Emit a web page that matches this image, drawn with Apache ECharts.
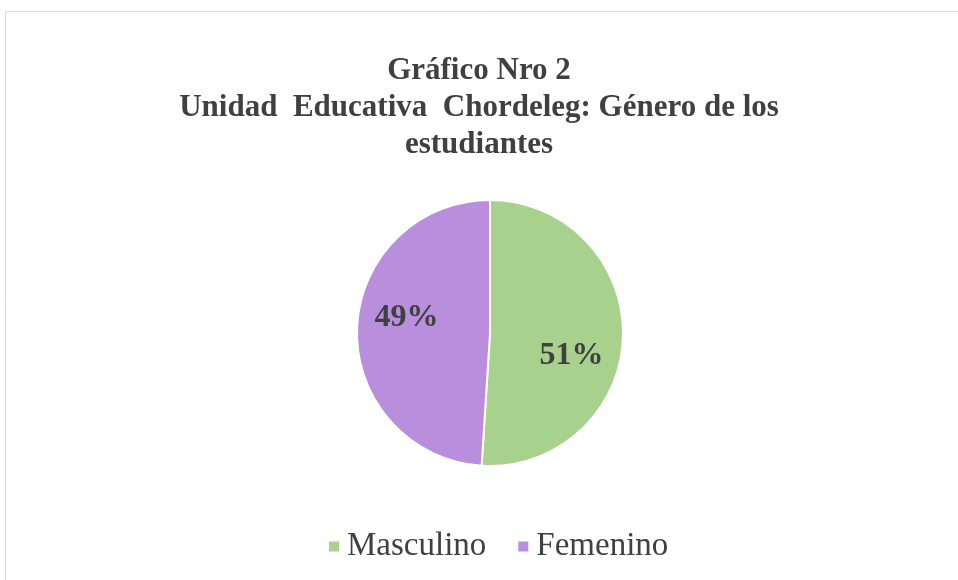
<!DOCTYPE html>
<html>
<head>
<meta charset="utf-8">
<script src="https://cdn.jsdelivr.net/npm/echarts@6/dist/echarts.min.js"></script>
<style>
  html, body { margin: 0; padding: 0; background: #fff; }
  #chart { width: 958px; height: 580px; }
</style>
</head>
<body>
<div id="chart"></div>
<script>
const categories = ["Masculino", "Femenino"];
const shares = [51, 49];
const colors = ["#a9d18e", "#b98edc"];
// label nudges so they sit where the original put them
const labelOffsets = [[12, 21], [-14, -13]];

const serif = "'Liberation Serif', 'DejaVu Serif', serif";
const textColor = "#404040";

const myChart = echarts.init(document.getElementById("chart"));

const option = {
  backgroundColor: "#fff",
  animation: false,
  title: {
    text: "Gráfico Nro 2\nUnidad  Educativa  Chordeleg: Género de los\nestudiantes",
    left: "center",
    top: 47,
    textStyle: {
      fontFamily: serif,
      fontWeight: "bold",
      fontSize: 31,
      lineHeight: 37,
      color: textColor,
    },
  },
  legend: {
    bottom: 12,
    left: 322,
    icon: "rect",
    itemWidth: 12,
    itemHeight: 12,
    itemGap: 30,
    textStyle: { fontFamily: serif, fontSize: 33, color: textColor, padding: [0, 0, 0, 2] },
    data: categories,
  },
  graphic: [
    {
      type: "rect",
      shape: { x: 5.5, y: 11.5, width: 1000, height: 1000 },
      style: { fill: "none", stroke: "#d9d9d9", lineWidth: 1 },
      silent: true,
    },
  ],
  series: [
    {
      type: "pie",
      center: [490, 333],
      radius: [0, 133],
      startAngle: 90,
      clockwise: true,
      itemStyle: { borderColor: "#fff", borderWidth: 2 },
      label: {
        position: "inside",
        formatter: "{c}%",
        fontFamily: serif,
        fontWeight: "bold",
        fontSize: 32,
        color: textColor,
      },
      labelLine: { show: false },
      data: categories.map((name, i) => ({
        name: name,
        value: shares[i],
        itemStyle: { color: colors[i] },
        label: { offset: labelOffsets[i] },
      })),
    },
  ],
};

myChart.setOption(option, true);
window.onresize = function () {
  myChart.resize();
};
</script>
</body>
</html>
